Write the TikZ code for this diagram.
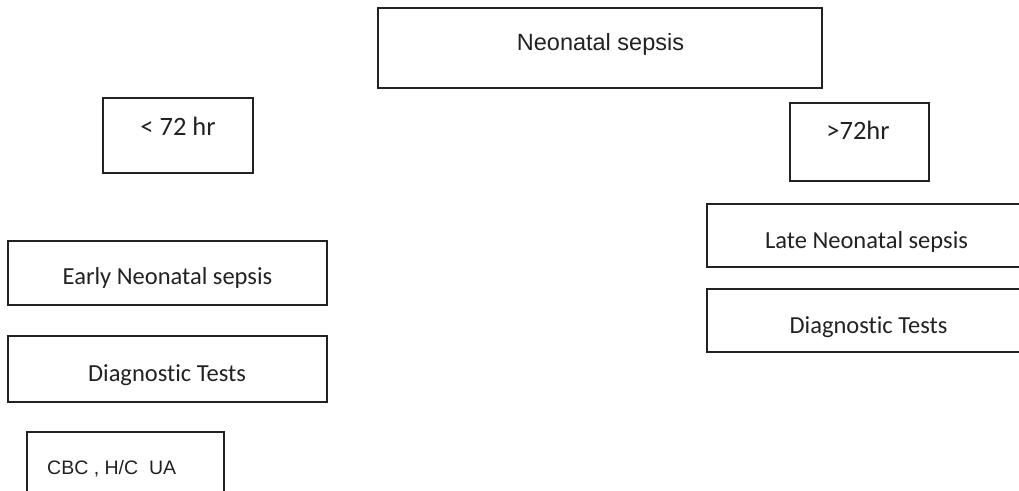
\documentclass[tikz,border=0pt]{standalone}
\usepackage{fontspec}
\setmainfont{Carlito}[Ligatures=NoCommon]
\newfontfamily\arialfont{Liberation Sans}
\definecolor{ink}{HTML}{222222}
\begin{document}
\begin{tikzpicture}[x=1pt,y=-1pt,
  box/.style={draw=ink, line width=1.7pt, rectangle, inner sep=0pt},
  cal/.style={text=ink, anchor=base, inner sep=0pt, font=\fontsize{24.5}{28}\selectfont},
  ari/.style={text=ink, anchor=base, inner sep=0pt, font=\arialfont\fontsize{23.5}{27}\selectfont},
  aris/.style={text=ink, anchor=base west, inner sep=0pt, font=\arialfont\fontsize{19.5}{23}\selectfont}]
\useasboundingbox[fill=white] (0,0) rectangle (1019,490);
% top box
\node[box, minimum width=444pt, minimum height=80pt] (top) at (600,48) {};
\node[ari] (topt) at (600.5,50) {Neonatal sepsis};
% < 72 hr
\node[box, minimum width=150pt, minimum height=75pt] (lt) at (178,135.5) {};
\node[cal, font=\fontsize{26.5}{30}\selectfont] (ltt) at (178,135) {< 72 hr};
% > 72 hr
\node[box, minimum width=139pt, minimum height=78pt] (gt) at (859.5,142) {};
\node[cal, font=\fontsize{26.5}{30}\selectfont] (gtt) at (858,139) {>72hr};
% left column
\node[box, minimum width=319pt, minimum height=64pt] (early) at (167.5,273) {};
\node[cal] (earlyt) at (167.5,284) {Early Neonatal sepsis};
\node[box, minimum width=319pt, minimum height=66pt] (dtl) at (167.5,369) {};
\node[cal] (dtlt) at (167,381) {Diagnostic Tests};
\node[box, minimum width=197pt, minimum height=80pt] (cbc) at (125.5,472) {};
\node[aris] (cbct) at (47,474) {CBC , H/C\ \ UA};
% right column
\node[box, minimum width=340pt, minimum height=63pt] (late) at (877,235.5) {};
\node[cal] (latet) at (866.5,248) {Late Neonatal sepsis};
\node[box, minimum width=340pt, minimum height=63pt] (dtr) at (877,320.5) {};
\node[cal] (dtrt) at (868.5,333) {Diagnostic Tests};
\end{tikzpicture}
\end{document}
